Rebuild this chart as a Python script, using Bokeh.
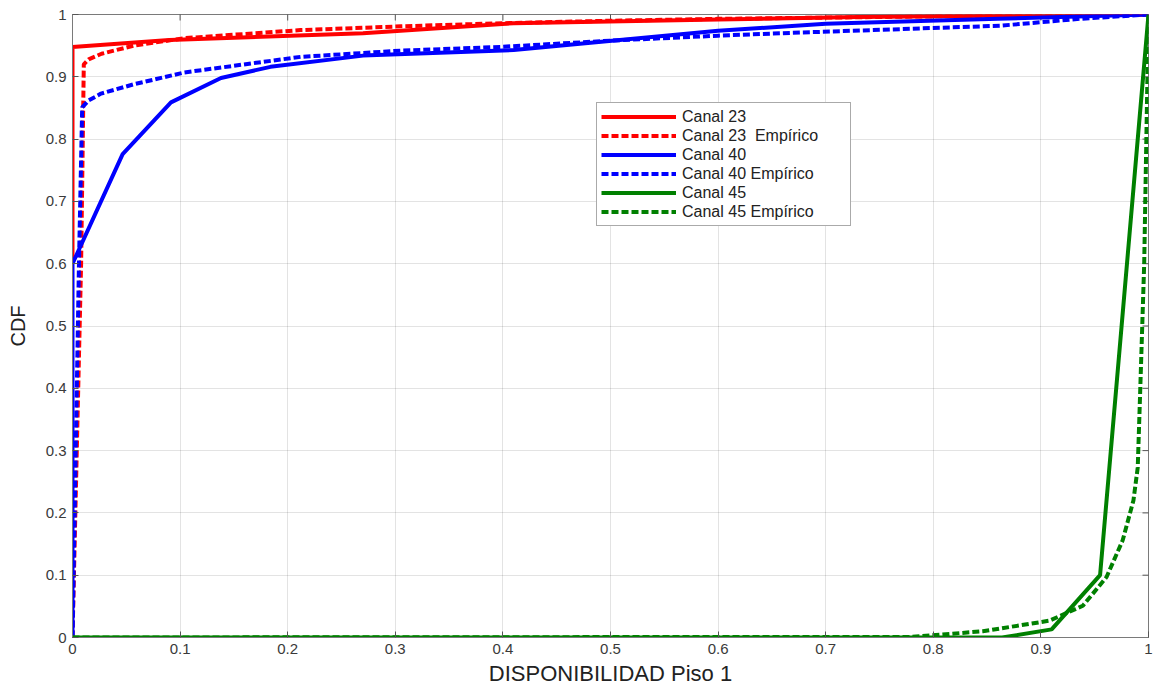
import math
from bokeh.plotting import figure
from bokeh.models import (Range1d, FixedTicker, CustomJSTickFormatter, Legend, LegendItem)
from bokeh.embed import file_html
from bokeh.resources import INLINE

# ---------------- data ----------------
x_ticks = [0, 0.1, 0.2, 0.3, 0.4, 0.5, 0.6, 0.7, 0.8, 0.9, 1.0]
y_ticks = [0, 0.1, 0.2, 0.3, 0.4, 0.5, 0.6, 0.7, 0.8, 0.9, 1.0]

c23_x = [0, 0, 0.09, 0.27, 0.41, 0.6, 0.73, 1.0]
c23_y = [0.6, 0.948, 0.959, 0.970, 0.986, 0.992, 0.996, 1.0]

c23e_x = [0, 0.008, 0.0105, 0.015, 0.027, 0.057, 0.104, 0.212, 0.305, 0.4, 0.5, 0.6, 0.7, 0.8, 0.9, 1.0]
c23e_y = [0, 0.6, 0.92, 0.928, 0.937, 0.950, 0.962, 0.975, 0.981, 0.986, 0.990, 0.993, 0.995, 0.997, 0.998, 1.0]

c40_x = [0, 0, 0.0466, 0.0915, 0.138, 0.184, 0.27, 0.41, 0.6, 0.7, 0.86, 1.0]
c40_y = [0, 0.6, 0.776, 0.859, 0.898, 0.916, 0.934, 0.943, 0.974, 0.985, 0.993, 1.0]

c40e_x = [0, 0.006, 0.009, 0.015, 0.0265, 0.057, 0.104, 0.212, 0.305, 0.398, 0.5, 0.6, 0.676, 0.862, 0.936, 1.0]
c40e_y = [0, 0.6, 0.851, 0.862, 0.873, 0.888, 0.907, 0.932, 0.942, 0.948, 0.958, 0.966, 0.971, 0.982, 0.993, 1.0]

c45_x = [0, 0.864, 0.91, 0.955, 1.0]
c45_y = [0, 0, 0.013, 0.1, 1.0]

c45e_x = [0, 0.78, 0.846, 0.908, 0.939, 0.961, 0.976, 0.986, 0.990, 0.992, 0.996, 1.0]
c45e_y = [0, 0.001, 0.010, 0.027, 0.051, 0.097, 0.156, 0.220, 0.273, 0.380, 0.600, 1.0]

labels = ["Canal 23", "Canal 23  Empírico", "Canal 40", "Canal 40 Empírico",
          "Canal 45", "Canal 45 Empírico"]

# ---------------- figure ----------------
FONT = "Liberation Sans"
AX_COL = "#7a7a7a"
TICK_COL = "#555555"
TXT_COL = "#3a3a3a"

p = figure(width=1160, height=689, output_backend="svg", toolbar_location=None,
           x_range=Range1d(0, 1), y_range=Range1d(0, 1),
           min_border_left=72, min_border_right=12, min_border_top=14, min_border_bottom=52,
           x_axis_label="DISPONIBILIDAD Piso 1", y_axis_label="CDF")
p.outline_line_color = AX_COL
p.background_fill_color = "white"
p.border_fill_color = "white"

fmt = CustomJSTickFormatter(code="return Number(tick.toFixed(2)).toString();")

for ax in (p.xaxis[0], p.yaxis[0]):
    ax.formatter = fmt
    ax.major_tick_in = 6
    ax.major_tick_out = 0
    ax.minor_tick_line_color = None
    ax.axis_line_color = AX_COL
    ax.major_tick_line_color = TICK_COL
    ax.major_label_text_font = FONT
    ax.major_label_text_font_size = "15px"
    ax.major_label_text_color = TXT_COL
    ax.axis_label_text_font = FONT
    ax.axis_label_text_font_style = "normal"
    ax.axis_label_text_color = "#222222"

p.xaxis[0].ticker = FixedTicker(ticks=x_ticks)
p.yaxis[0].ticker = FixedTicker(ticks=y_ticks)
p.xaxis[0].major_label_standoff = 6
p.yaxis[0].major_label_standoff = 6
p.xaxis[0].axis_label_text_font_size = "22px"
p.yaxis[0].axis_label_text_font_size = "20px"
p.xaxis[0].axis_label_standoff = 4
p.yaxis[0].axis_label_standoff = 14

p.xgrid.ticker = FixedTicker(ticks=x_ticks)
p.ygrid.ticker = FixedTicker(ticks=y_ticks)
p.grid.grid_line_color = "#262626"
p.grid.grid_line_alpha = 0.13
p.grid.grid_line_width = 1

# box ticks on the top and right edges (half of each dash is clipped by the frame)
p.scatter(x=x_ticks, y=[1.0] * len(x_ticks), marker="dash", angle=math.pi / 2, size=12,
          line_color=TICK_COL, line_width=1)
p.scatter(x=[1.0] * len(y_ticks), y=y_ticks, marker="dash", size=12,
          line_color=TICK_COL, line_width=1)

LW = 4
DASH = "7 3"
r1 = p.line(c23_x, c23_y, line_color="#ff0000", line_width=LW)
r2 = p.line(c23e_x, c23e_y, line_color="#ff0000", line_width=LW, line_dash=DASH)
r3 = p.line(c40_x, c40_y, line_color="#0000ff", line_width=LW)
r4 = p.line(c40e_x, c40e_y, line_color="#0000ff", line_width=LW, line_dash=DASH)
r5 = p.line(c45_x, c45_y, line_color="#008000", line_width=LW)
r6 = p.line(c45e_x, c45e_y, line_color="#008000", line_width=LW, line_dash=DASH)

legend = Legend(items=[LegendItem(label=l, renderers=[r]) for l, r in
                       zip(labels, [r1, r2, r3, r4, r5, r6])],
                location=(524, 411))
legend.padding = 4
legend.spacing = 0
legend.margin = 0
legend.label_height = 19
legend.glyph_height = 19
legend.glyph_width = 75
legend.label_standoff = 6
legend.label_width = 164
legend.label_text_font = FONT
legend.label_text_font_size = "16px"
legend.label_text_color = "#222222"
legend.border_line_color = "#555555"
legend.border_line_width = 1.5
legend.background_fill_color = "white"
legend.background_fill_alpha = 1
p.add_layout(legend)

open("out.html", "w").write(file_html(p, INLINE))
